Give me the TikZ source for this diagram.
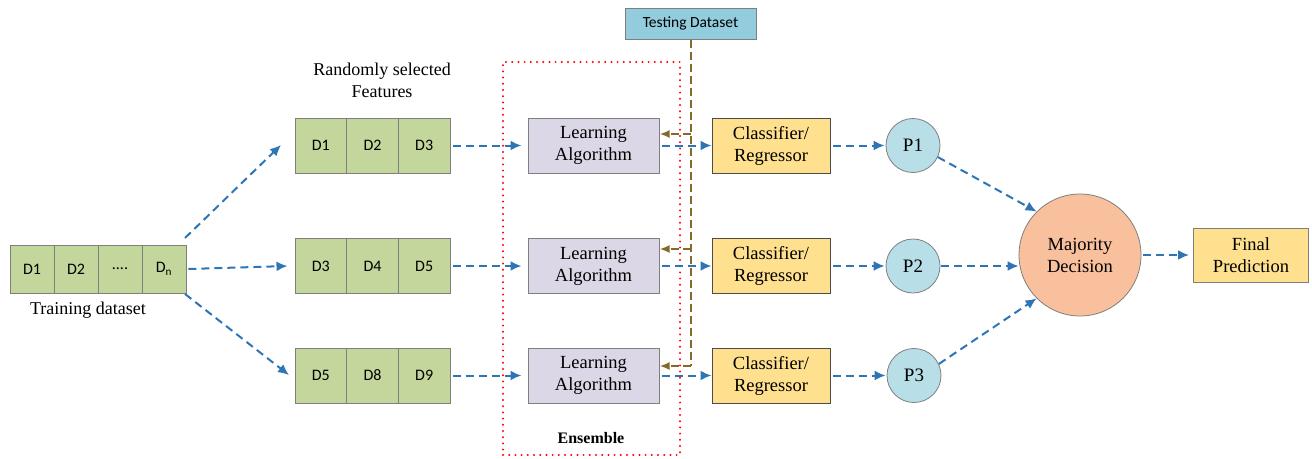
\documentclass[tikz,border=0pt]{standalone}
\usepackage{fontspec}
\setmainfont{Liberation Serif}
\newfontfamily\calfont{Carlito}
\usetikzlibrary{arrows.meta}

\definecolor{cellgreen}{HTML}{C3D69B}
\definecolor{lavender}{HTML}{DCD7E6}
\definecolor{gold}{HTML}{FFE08F}
\definecolor{pblue}{HTML}{B8DEE8}
\definecolor{peach}{HTML}{F8C09C}
\definecolor{testblue}{HTML}{93CDDD}
\definecolor{arrowblue}{HTML}{2E75B6}
\definecolor{brown}{HTML}{86682A}
\definecolor{edge}{HTML}{7F7F7F}

\tikzset{
  cell/.style={draw=edge, line width=0.9pt, fill=cellgreen, minimum height=55pt,
    inner sep=0pt, font=\calfont\fontsize{16}{18}\selectfont},
  learnbox/.style={draw=edge, line width=1pt, fill=lavender, minimum width=131pt,
    minimum height=55pt, align=center, font=\fontsize{18.5}{22}\selectfont},
  classbox/.style={draw=black!70, line width=1pt, fill=gold, minimum width=118pt,
    minimum height=55pt, align=center, font=\fontsize{18.5}{22}\selectfont},
  pcircle/.style={circle, draw=edge, line width=0.8pt, fill=pblue, minimum size=54pt,
    inner sep=0pt, font=\fontsize{19}{22}\selectfont},
  flow/.style={draw=arrowblue, line width=2pt, dash pattern=on 8pt off 5pt,
    -{Latex[length=11pt,width=10pt]}},
  testflow/.style={draw=brown, line width=2pt, dash pattern=on 8pt off 4pt},
  testtip/.style={draw=brown, line width=2pt, dash pattern=on 8pt off 4pt,
    -{Latex[length=10pt,width=8pt]}},
  caption/.style={align=center, font=\fontsize{18}{22}\selectfont}
}

\begin{document}
\begin{tikzpicture}[x=1pt, y=-1pt]
\useasboundingbox (0,0) rectangle (1312,458);

% training dataset
\node[cell, minimum width=44pt, minimum height=48pt] (t1) at (32,269) {D1};
\node[cell, minimum width=44pt, minimum height=48pt] (t2) at (76,269) {D2};
\node[cell, minimum width=44pt, minimum height=48pt] (t3) at (120,269) {....};
\node[cell, minimum width=44pt, minimum height=48pt] (t4) at (164,269) {D\textsubscript{n}};
\node[caption] (tlabel) at (88,310) {Training dataset};

% randomly selected feature subsets
\node[caption] (flabel) at (382,80) {Randomly selected\\Features};
\foreach \r/\y/\a/\b/\c in {1/145.5/D1/D2/D3, 2/266/D3/D4/D5, 3/375.5/D5/D8/D9}{
  \node[cell, minimum width=51.7pt] (f\r a) at (320.8,\y) {\a};
  \node[cell, minimum width=51.7pt] (f\r b) at (372.5,\y) {\b};
  \node[cell, minimum width=51.7pt] (f\r c) at (424.2,\y) {\c};
}

% ensemble
\node[draw=red, line width=2.2pt, line cap=round, dash pattern=on 0pt off 6.2pt,
  minimum width=177pt, minimum height=393pt, inner sep=0pt] (ens) at (591.5,258.5) {};
\node[font=\bfseries\fontsize{16}{18}\selectfont] (enslabel) at (591,438) {Ensemble};

\node[learnbox] (l1) at (593.5,145.5) {Learning\\Algorithm};
\node[learnbox] (l2) at (593.5,266) {Learning\\Algorithm};
\node[learnbox] (l3) at (593.5,375.5) {Learning\\Algorithm};

\node[classbox] (c1) at (771,145.5) {Classifier/\\Regressor};
\node[classbox] (c2) at (771,266) {Classifier/\\Regressor};
\node[classbox] (c3) at (771,375.5) {Classifier/\\Regressor};

\node[pcircle] (p1) at (913,145.5) {P1};
\node[pcircle] (p2) at (913,266) {P2};
\node[pcircle] (p3) at (914,375.5) {P3};

\node[circle, draw=edge, line width=0.8pt, fill=peach, minimum size=122pt, inner sep=0pt,
  align=center, font=\fontsize{18.5}{22}\selectfont] (maj) at (1080,255) {Majority\\Decision};
\node[classbox, draw=edge, minimum width=115pt, minimum height=54pt] (final) at (1251,255)
  {Final\\Prediction};

\node[draw=edge, line width=1pt, fill=testblue, minimum width=131pt, minimum height=31pt,
  font=\calfont\fontsize{15.5}{18}\selectfont] (test) at (690.5,23.5) {Testing Dataset};

% testing data fed to each learner
\coordinate (tb3) at (691,366);
\draw[testflow] (test.south -| tb3) -- (tb3);
\draw[testtip] (691,134) -- (l1.east |- 0,134);
\draw[testtip] (691,249) -- (l2.east |- 0,249);
\draw[testtip] (tb3) -- (l3.east |- tb3);

% training data to feature subsets
\coordinate (s1) at (185,238);
\coordinate (e1) at (281,145);
\draw[flow] (s1) -- (e1);
\draw[flow] ([xshift=2pt]t4.east) -- ([xshift=-7pt]f2a.west);
\coordinate (s3) at (185,294);
\coordinate (e3) at (289,375);
\draw[flow] (s3) -- (e3);

% flow through each branch
\foreach \r in {1,2,3}{
  \draw[flow] ([xshift=2pt]f\r c.east) -- ([xshift=-6pt]l\r.west |- f\r c.east);
  \draw[flow] ([xshift=2pt]l\r.east) -- (c\r.west);
  \draw[flow] ([xshift=2pt]c\r.east) -- ([xshift=-1pt]p\r.west);
}

% predictions to the vote
\draw[flow] (p1.-25) -- (maj.135);
\draw[flow] ([xshift=1pt]p2.east) -- (maj.west |- p2.east);
\draw[flow] (p3.25) -- (maj.-135);
\draw[flow] ([xshift=2pt]maj.east) -- ([xshift=-4pt]final.west);
\end{tikzpicture}
\end{document}
